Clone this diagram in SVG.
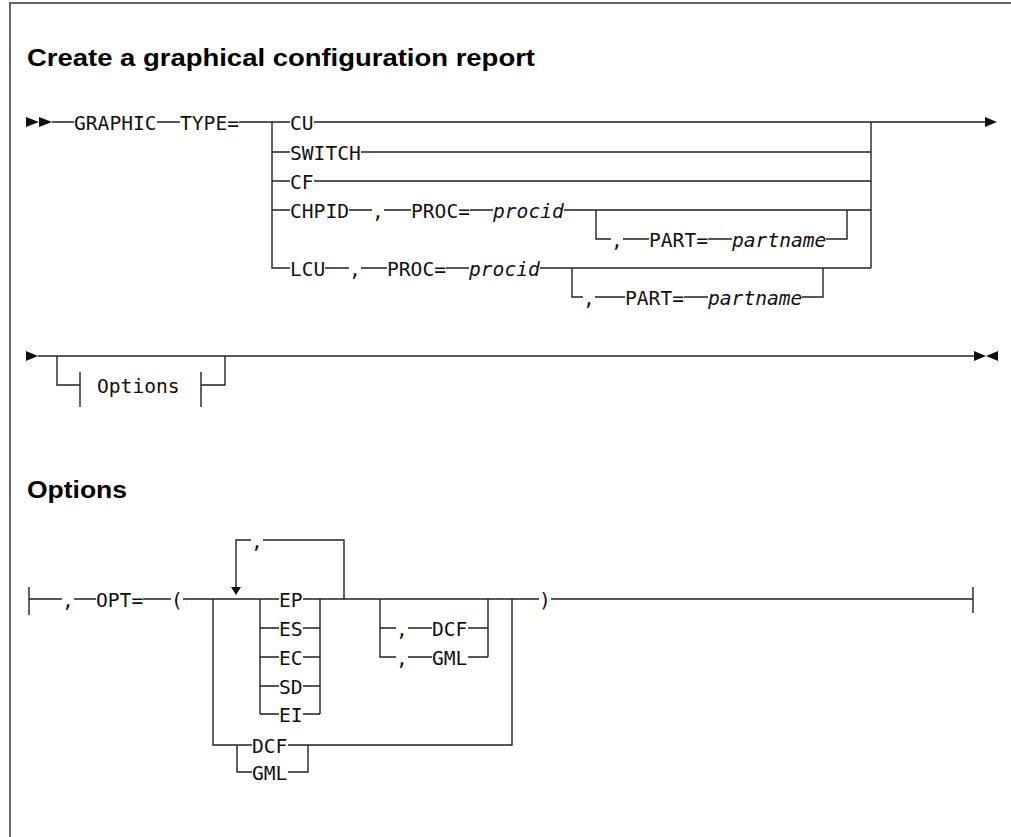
<svg xmlns="http://www.w3.org/2000/svg" width="1011" height="837" viewBox="0 0 1011 837">
<style>
.t{font-family:"DejaVu Sans Mono","Liberation Mono",monospace;font-size:19.6px;fill:#111}
.i{font-family:"DejaVu Sans Mono","Liberation Mono",monospace;font-size:19.6px;font-style:italic;fill:#111}
.h{font-family:"Liberation Sans",Arial,sans-serif;font-size:23px;font-weight:bold;fill:#000}
.c path{fill:none;stroke:#222;stroke-width:1.4}
.a{fill:#111}
</style>
<rect x="10" y="3" width="1010" height="850" fill="#fff" stroke="#666" stroke-width="2"/>
<text class="h" x="27" y="66" textLength="508" lengthAdjust="spacingAndGlyphs">Create a graphical configuration report</text>
<text class="h" x="27" y="498" textLength="100" lengthAdjust="spacingAndGlyphs">Options</text>

<g id="connectors" class="c">
<!-- row 1 -->
<path d="M52,122H74M157,122H180M239,122H290M314,122H985"/>
<path d="M272,122V268H290M272,152H290M272,181H290M272,210H290"/>
<path d="M361,152H871M314,181H871"/>
<path d="M349,210H372M384,210H411M470,210H493M564,210H871"/>
<path d="M596,210V239H611M623,239H649M708,239H732M826,239H847V210"/>
<path d="M325,268H349M361,268H387M446,268H469M540,268H871"/>
<path d="M572,268V297H583M595,297H625M684,297H708M802,297H823V268"/>
<path d="M871,122V268"/>
<!-- row 2 -->
<path d="M38,356H975"/>
<path d="M57,356V385H80M80,372V407M201,372V407M201,385H225V356"/>
<!-- options -->
<path d="M29,587V615M29,599H62M74,599H96M143,599H171M183,599H279M303,599H539M551,599H973M973,587V613"/>
<path d="M344,599V540H263M251,540H236V588"/>
<path d="M213,599V745H252M288,745H512V599M237,745V772H252M288,772H308V745"/>
<path d="M260,599V714M260,628H279M260,657H279M260,686H279M260,714H279M303,628H320M303,657H320M303,686H320M303,714H320M320,599V714"/>
<path d="M380,599V657H396M380,628H396M408,628H432M408,657H432M468,628H488M468,657H488M488,599V657"/>
</g>
<g id="arrows">
<polygon class="a" points="26,117 39,122 26,127"/>
<polygon class="a" points="39,117 52,122 39,127"/>
<polygon class="a" points="985,117 997,122 985,127"/>
<polygon class="a" points="26,351 38,356 26,361"/>
<polygon class="a" points="974,351 986,356 974,361"/>
<polygon class="a" points="998,351 986,356 998,361"/>
<polygon class="a" points="231,587 241,587 236,595"/>
</g>
<g id="main-diagram">
<text class="t" x="74" y="129.5">GRAPHIC</text>
<text class="t" x="180" y="129.5">TYPE=</text>
<text class="t" x="290" y="129.5">CU</text>
<text class="t" x="290" y="159.5">SWITCH</text>
<text class="t" x="290" y="188.5">CF</text>
<text class="t" x="290" y="217.5">CHPID</text>
<text class="t" x="372" y="217.5">,</text>
<text class="t" x="411" y="217.5">PROC=</text>
<text class="i" x="493" y="217.5">procid</text>
<text class="t" x="611" y="246.5">,</text>
<text class="t" x="649" y="246.5">PART=</text>
<text class="i" x="732" y="246.5">partname</text>
<text class="t" x="290" y="275.5">LCU</text>
<text class="t" x="349" y="275.5">,</text>
<text class="t" x="387" y="275.5">PROC=</text>
<text class="i" x="469" y="275.5">procid</text>
<text class="t" x="583" y="304.5">,</text>
<text class="t" x="625" y="304.5">PART=</text>
<text class="i" x="708" y="304.5">partname</text>
<text class="t" x="97" y="393">Options</text>
</g>
<g id="options-diagram">
<text class="t" x="62" y="606.5">,</text>
<text class="t" x="96" y="606.5">OPT=</text>
<text class="t" x="171" y="606.5">(</text>
<text class="t" x="251" y="547.5">,</text>
<text class="t" x="279" y="606.5">EP</text>
<text class="t" x="279" y="635.5">ES</text>
<text class="t" x="279" y="664.5">EC</text>
<text class="t" x="279" y="693.5">SD</text>
<text class="t" x="279" y="721.5">EI</text>
<text class="t" x="396" y="635.5">,</text>
<text class="t" x="432" y="635.5">DCF</text>
<text class="t" x="396" y="664.5">,</text>
<text class="t" x="432" y="664.5">GML</text>
<text class="t" x="252" y="752.5">DCF</text>
<text class="t" x="252" y="779.5">GML</text>
<text class="t" x="539" y="606.5">)</text>
</g>
</svg>
